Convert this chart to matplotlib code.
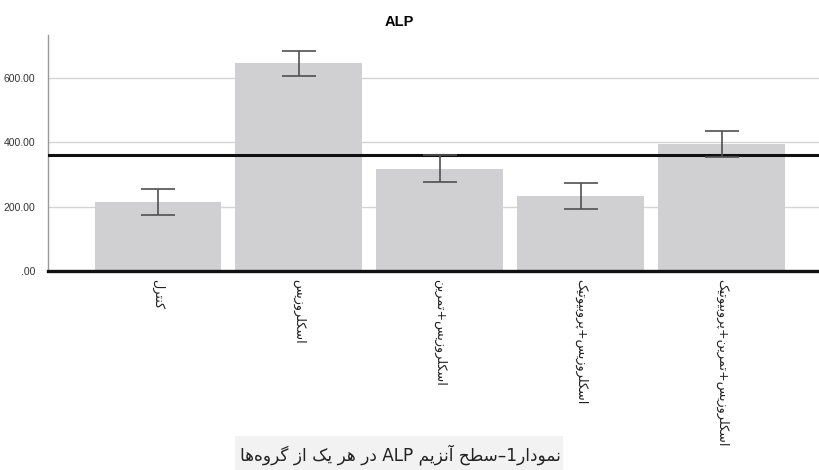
import re
import matplotlib
matplotlib.use("Agg")
import matplotlib.pyplot as plt

# ---------------- data ----------------
categories = ["کنترل", "اسکلروزیس", "اسکلروزیس+تمرین",
              "اسکلروزیس+پروبیوتیک", "اسکلروزیس+تمرین+پروبیوتیک"]
means = [215, 647, 318, 234, 396]
err_low = [174, 605, 278, 194, 354]
err_high = [255, 685, 360, 273, 434]
reference_value = 361
y_ticks = [0, 200, 400, 600]
y_tick_labels = [".00", "200.00", "400.00", "600.00"]
title = "ALP"
caption = "نمودار1–سطح آنزیم ALP در هر یک از گروه\u200cها"

# ---------------- minimal Arabic/Persian shaping ----------------
FORMS = {
    '\u0627': (0xFE8D, 0xFE8E, None, None),
    '\u0622': (0xFE81, 0xFE82, None, None),
    '\u0628': (0xFE8F, 0xFE90, 0xFE91, 0xFE92),
    '\u067E': (0xFB56, 0xFB57, 0xFB58, 0xFB59),
    '\u062A': (0xFE95, 0xFE96, 0xFE97, 0xFE98),
    '\u062B': (0xFE99, 0xFE9A, 0xFE9B, 0xFE9C),
    '\u062C': (0xFE9D, 0xFE9E, 0xFE9F, 0xFEA0),
    '\u0686': (0xFB7A, 0xFB7B, 0xFB7C, 0xFB7D),
    '\u062D': (0xFEA1, 0xFEA2, 0xFEA3, 0xFEA4),
    '\u062E': (0xFEA5, 0xFEA6, 0xFEA7, 0xFEA8),
    '\u062F': (0xFEA9, 0xFEAA, None, None),
    '\u0630': (0xFEAB, 0xFEAC, None, None),
    '\u0631': (0xFEAD, 0xFEAE, None, None),
    '\u0632': (0xFEAF, 0xFEB0, None, None),
    '\u0698': (0xFB8A, 0xFB8B, None, None),
    '\u0633': (0xFEB1, 0xFEB2, 0xFEB3, 0xFEB4),
    '\u0634': (0xFEB5, 0xFEB6, 0xFEB7, 0xFEB8),
    '\u0635': (0xFEB9, 0xFEBA, 0xFEBB, 0xFEBC),
    '\u0636': (0xFEBD, 0xFEBE, 0xFEBF, 0xFEC0),
    '\u0637': (0xFEC1, 0xFEC2, 0xFEC3, 0xFEC4),
    '\u0638': (0xFEC5, 0xFEC6, 0xFEC7, 0xFEC8),
    '\u0639': (0xFEC9, 0xFECA, 0xFECB, 0xFECC),
    '\u063A': (0xFECD, 0xFECE, 0xFECF, 0xFED0),
    '\u0641': (0xFED1, 0xFED2, 0xFED3, 0xFED4),
    '\u0642': (0xFED5, 0xFED6, 0xFED7, 0xFED8),
    '\u06A9': (0xFB8E, 0xFB8F, 0xFB90, 0xFB91),
    '\u06AF': (0xFB92, 0xFB93, 0xFB94, 0xFB95),
    '\u0644': (0xFEDD, 0xFEDE, 0xFEDF, 0xFEE0),
    '\u0645': (0xFEE1, 0xFEE2, 0xFEE3, 0xFEE4),
    '\u0646': (0xFEE5, 0xFEE6, 0xFEE7, 0xFEE8),
    '\u0647': (0xFEE9, 0xFEEA, 0xFEEB, 0xFEEC),
    '\u0648': (0xFEED, 0xFEEE, None, None),
    '\u06CC': (0xFBFC, 0xFBFD, 0xFBFE, 0xFBFF),
}


def _dual(c):
    return c in FORMS and FORMS[c][2] is not None


def shape_word(word):
    out = []
    n = len(word)
    for i, c in enumerate(word):
        if c not in FORMS:
            if c != '\u200c':
                out.append(c)
            continue
        prev_j = i > 0 and _dual(word[i - 1])
        next_j = _dual(c) and i + 1 < n and word[i + 1] in FORMS
        iso, fin, ini, med = FORMS[c]
        if prev_j and next_j:
            code = med
        elif prev_j:
            code = fin
        elif next_j:
            code = ini
        else:
            code = iso
        out.append(chr(code))
    return "".join(out)


def visual(text):
    tokens = re.findall(r"[\u0600-\u06FF\u200c]+|[A-Za-z0-9.]+|.", text)
    vis = []
    for t in reversed(tokens):
        if re.match(r"[\u0600-\u06FF]", t):
            vis.append(shape_word(t)[::-1])
        else:
            vis.append(t)
    return "".join(vis)


# ---------------- plot ----------------
W, H = 819, 470
fig = plt.figure(figsize=(W / 100, H / 100), dpi=100)
ax = fig.add_axes([48 / W, 1 - 271 / H, 1 - 48 / W, (271 - 35) / H])

x = list(range(len(categories)))
ax.bar(x, means, width=0.9, color="#d0d0d2", zorder=2)
yerr = [[m - lo for m, lo in zip(means, err_low)],
        [hi - m for m, hi in zip(means, err_high)]]
ax.errorbar(x, means, yerr=yerr, fmt="none", ecolor="#505050",
            elinewidth=1.2, capsize=12.5, capthick=1.2, zorder=4)

ax.axhline(reference_value, color="#111111", lw=2.2, zorder=3)
ax.axhline(0, color="#111111", lw=2.4, zorder=5, clip_on=False)

ax.set_xlim(-0.78, 4.69)
ax.set_ylim(0, 733.7)
ax.set_yticks(y_ticks)
ax.set_yticklabels(y_tick_labels, fontsize=7.5, color="#333333",
                   family="Liberation Sans")
ax.tick_params(axis="y", length=0, pad=9)
ax.yaxis.grid(True, color="#d4d4d4", lw=1.0, zorder=0)
ax.set_axisbelow(True)

ax.set_xticks(x)
ax.set_xticklabels([visual(c) for c in categories], rotation=270,
                   fontsize=9.2, family="DejaVu Sans", color="#222222",
                   ha="center", va="top")
ax.tick_params(axis="x", length=0, pad=6)

for s in ["top", "right", "bottom"]:
    ax.spines[s].set_visible(False)
ax.spines["left"].set_color("#9a9a9a")
ax.spines["left"].set_linewidth(1.0)

fig.text(399 / W, 1 - 22 / H, title, ha="center", va="center",
         fontsize=10.5, fontweight="bold", family="Liberation Sans")

fig.patches.append(plt.Rectangle((235 / W, 0), (563 - 235) / W,
                                 (470 - 436) / H, transform=fig.transFigure,
                                 facecolor="#f2f2f2", edgecolor="none",
                                 zorder=0))
fig.text(400 / W, 1 - 455 / H, visual(caption), ha="center", va="center",
         fontsize=12.2, family="DejaVu Sans", color="#222222")

fig.savefig("out.png", dpi=100)
